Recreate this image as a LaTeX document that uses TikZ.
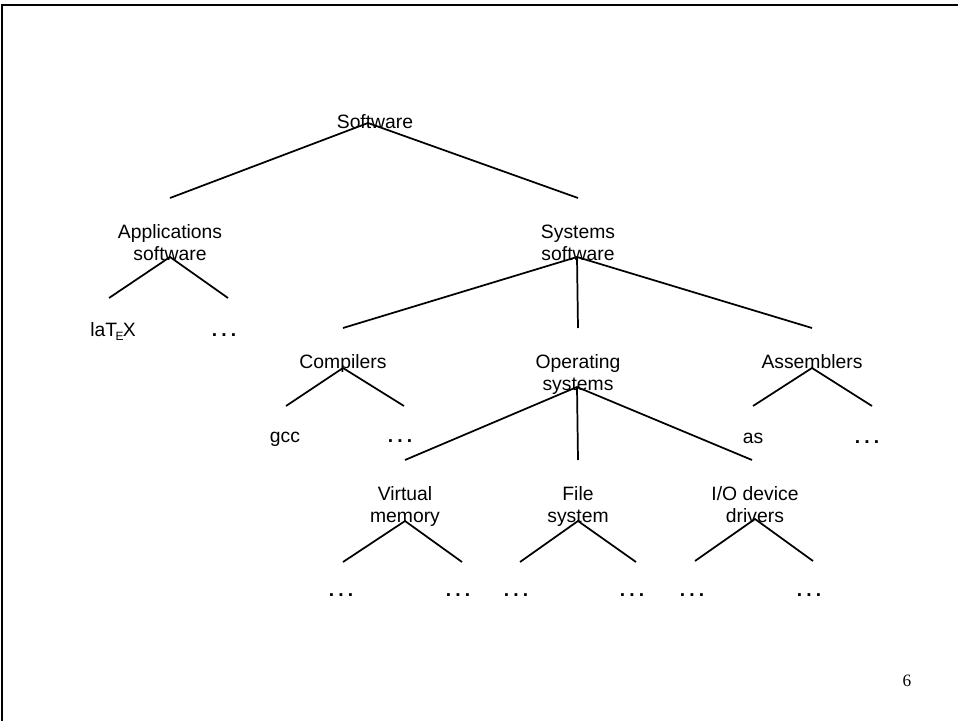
\documentclass[tikz,border=0pt]{standalone}
\usepackage{fontspec}
\setmainfont{Liberation Sans}
\newfontfamily\numfont{Liberation Serif}
% three spaced, squared-off dots standing for "more of the same"
\newcommand\moredots{\textbf{.\hspace{3.1pt}.\hspace{3.1pt}.}}
\tikzset{
  lbl/.style={font=\fontsize{14.5}{16.5}\selectfont, align=center, inner sep=0pt, anchor=base},
  branch/.style={line width=1.3pt},
  frameline/.style={line width=1.5pt}
}
\begin{document}
\begin{tikzpicture}[x=0.75pt, y=-0.75pt]
  \useasboundingbox (0,0) rectangle (958,721);
  % slide frame (top and left edges)
  \draw[frameline] (2,721) -- (2,5) -- (958,5);

  % labels (two-line labels are placed by the baseline of their last line)
  \node[lbl] (soft) at (375,128) {Software};
  \node[lbl] (app)  at (170,260) {Applications\\software};
  \node[lbl] (sys)  at (578,260) {Systems\\software};
  \node[lbl] (latex) at (113,336) {laT\kern-0.08em\raisebox{-0.45ex}{\fontsize{9}{9}\selectfont E}\kern-0.04em X};
  \node[lbl] (dA)   at (224,336) {\moredots};
  \node[lbl] (comp) at (343,368) {Compilers};
  \node[lbl] (os)   at (578,390) {Operating\\systems};
  \node[lbl] (asm)  at (812,368) {Assemblers};
  \node[lbl] (gcc)  at (285,442) {gcc};
  \node[lbl] (dC)   at (400,442) {\moredots};
  \node[lbl] (as)   at (753,443) {as};
  \node[lbl] (dS)   at (867,443) {\moredots};
  \node[lbl] (vm)   at (405,522) {Virtual\\memory};
  \node[lbl] (fs)   at (578,522) {File\\system};
  \node[lbl] (io)   at (755,522) {I/O device\\drivers};
  \node[lbl] (d1)   at (341,596) {\moredots};
  \node[lbl] (d2)   at (458,596) {\moredots};
  \node[lbl] (d3)   at (516,596) {\moredots};
  \node[lbl] (d4)   at (632,596) {\moredots};
  \node[lbl] (d5)   at (692,596) {\moredots};
  \node[lbl] (d6)   at (809,596) {\moredots};
  \node[font=\numfont\fontsize{13}{13}\selectfont, inner sep=0pt, anchor=base] (pg) at (907,686) {6};

  % branch points and branch ends
  \coordinate (softA) at (368,123);
  \coordinate (appT) at (170,198);
  \coordinate (sysT) at (578,198);
  \coordinate (appA) at (170,257);
  \coordinate (appL) at (109,298);
  \coordinate (appR) at (228,298);
  \coordinate (sysA) at (577,257);
  \coordinate (sysL) at (343,328);
  \coordinate (sysM) at (578,328);
  \coordinate (sysR) at (812,328);
  \coordinate (compA) at (343,368);
  \coordinate (compL) at (286,406);
  \coordinate (compR) at (404,406);
  \coordinate (asmA) at (812,368);
  \coordinate (asmL) at (753,406);
  \coordinate (asmR) at (872,406);
  \coordinate (osA) at (577,387);
  \coordinate (osL) at (405,460);
  \coordinate (osM) at (578,460);
  \coordinate (osR) at (752,460);
  \coordinate (vmA) at (405,521);
  \coordinate (vmL) at (343,562);
  \coordinate (vmR) at (462,562);
  \coordinate (fsA) at (578,521);
  \coordinate (fsL) at (520,562);
  \coordinate (fsR) at (636,562);
  \coordinate (ioA) at (755,519);
  \coordinate (ioL) at (695,561);
  \coordinate (ioR) at (813,561);

  % tree branches
  \draw[branch] (appT) -- (softA) -- (sysT);
  \draw[branch] (appL) -- (appA) -- (appR);
  \draw[branch] (sysL) -- (sysA) -- (sysR);
  \draw[branch] (sysA) -- (sysM);
  \draw[branch] (compL) -- (compA) -- (compR);
  \draw[branch] (asmL) -- (asmA) -- (asmR);
  \draw[branch] (osL) -- (osA) -- (osR);
  \draw[branch] (osA) -- (osM);
  \draw[branch] (vmL) -- (vmA) -- (vmR);
  \draw[branch] (fsL) -- (fsA) -- (fsR);
  \draw[branch] (ioL) -- (ioA) -- (ioR);
\end{tikzpicture}
\end{document}
